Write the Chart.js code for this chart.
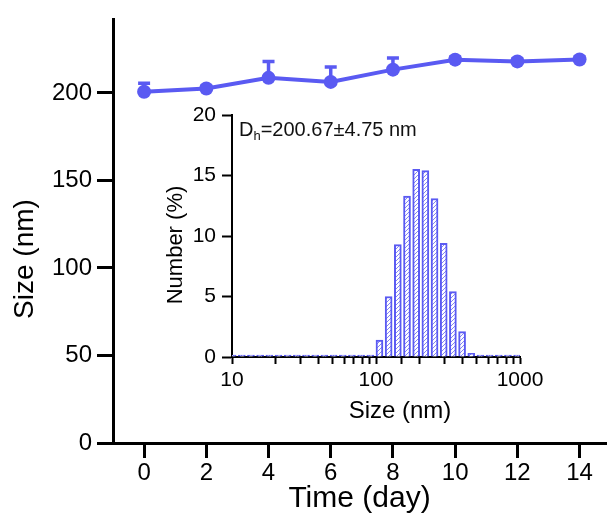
<!DOCTYPE html>
<html>
<head>
<meta charset="utf-8">
<script src="https://cdn.jsdelivr.net/npm/chart.js@4/dist/chart.umd.min.js"></script>
<style>
  html, body { margin: 0; padding: 0; background: #fff; }
  #wrap { position: relative; width: 613px; height: 521px; font-family: "Liberation Sans", Arial, sans-serif; color: #000; }
  #mainChart { position: absolute; left: 0; top: 0; }
  #insetChart { position: absolute; left: 150px; top: 95px; }
  .lbl { position: absolute; white-space: nowrap; text-align: center; }
  .rot { transform: rotate(-90deg); }
  #ytitle { left: -76px; top: 243px; width: 200px; font-size: 28px; line-height: 32px; }
  #iytitle { left: 100px; top: 232px; width: 150px; font-size: 22px; line-height: 26px; }
  #ixtitle { left: 325px; top: 396px; width: 150px; font-size: 24px; line-height: 28px; }
  #dh { left: 239px; top: 118px; font-size: 20px; color: #111; }
  #dh sub { font-size: 13px; vertical-align: -4px; }
</style>
</head>
<body>
<div id="wrap">
  <canvas id="mainChart" width="613" height="521"></canvas>
  <canvas id="insetChart" width="420" height="335"></canvas>
  <div id="ytitle" class="lbl rot">Size (nm)</div>
  <div id="iytitle" class="lbl rot">Number (%)</div>
  <div id="ixtitle" class="lbl">Size (nm)</div>
  <div id="dh" class="lbl">D<sub>h</sub>=200.67±4.75 nm</div>
</div>
<script>
// Stability over time (main plot)
const days = [0, 2, 4, 6, 8, 10, 12, 14];
const sizeMean = [200.7, 202.5, 208.6, 206.3, 213.3, 219.0, 218.0, 219.1];
const sizeSD = [4.8, 1.5, 9.4, 8.5, 6.6, 1.5, 1.5, 1.5];
const dayTicks = [0, 2, 4, 6, 8, 10, 12, 14];
const sizeTicks = [0, 50, 100, 150, 200];

// DLS number distribution (inset)
const dlsSize = [10.10, 11.70, 13.54, 15.69, 18.17, 21.04, 24.36, 28.21, 32.67, 37.84,
  43.82, 50.75, 58.77, 68.06, 78.82, 91.28, 105.7, 122.4, 141.8, 164.2,
  190.1, 220.2, 255.0, 295.3, 342.0, 396.1, 458.7, 531.2, 615.1, 712.4, 825.0, 955.4];
const dlsNumber = [0, 0, 0, 0, 0, 0, 0, 0, 0, 0,
  0, 0, 0, 0, 0, 0, 1.4, 5.0, 9.3, 13.3,
  15.5, 15.4, 13.1, 9.4, 5.4, 2.1, 0.3, 0, 0, 0, 0, 0];
const numberTicks = [0, 5, 10, 15, 20];
const sizeLabelTicks = [10, 100, 1000];

const BLUE = "#5a5af2";
const FONT = "'Liberation Sans', Arial, sans-serif";

// upper error bars, drawn under the markers
const errorBars = {
  id: "errorBars",
  beforeDatasetsDraw(chart) {
    const ctx = chart.ctx;
    const xs = chart.scales.x, ys = chart.scales.y;
    ctx.save();
    ctx.strokeStyle = BLUE;
    ctx.lineWidth = 3.5;
    days.forEach((d, i) => {
      const px = xs.getPixelForValue(d);
      const y0 = ys.getPixelForValue(sizeMean[i]);
      const y1 = ys.getPixelForValue(sizeMean[i] + sizeSD[i]);
      ctx.beginPath();
      ctx.moveTo(px, y0);
      ctx.lineTo(px, y1);
      ctx.moveTo(px - 6, y1);
      ctx.lineTo(px + 6, y1);
      ctx.stroke();
    });
    ctx.restore();
  }
};

new Chart(document.getElementById("mainChart"), {
  type: "line",
  data: {
    datasets: [{
      data: days.map((d, i) => ({ x: d, y: sizeMean[i] })),
      borderColor: BLUE,
      backgroundColor: BLUE,
      borderWidth: 4,
      pointRadius: 7,
      pointBackgroundColor: BLUE,
      pointBorderWidth: 0,
      tension: 0
    }]
  },
  options: {
    responsive: false,
    animation: false,
    layout: { padding: { top: 15, right: 0, left: 0, bottom: 0 } },
    plugins: { legend: { display: false }, tooltip: { enabled: false } },
    scales: {
      x: {
        type: "linear",
        min: -1,
        max: 14.85,
        afterBuildTicks: s => { s.ticks = dayTicks.map(v => ({ value: v })); },
        afterFit: s => { s.height = 78; },
        border: { color: "#000", width: 3 },
        grid: { drawOnChartArea: false, tickLength: 15, tickWidth: 3, tickColor: "#000" },
        ticks: { color: "#000", font: { family: FONT, size: 24 }, padding: 1, autoSkip: false, maxRotation: 0 },
        title: { display: true, text: "Time (day)", color: "#000", font: { family: FONT, size: 30 }, padding: { top: 0, bottom: 4 } }
      },
      y: {
        min: 0,
        max: 242,
        afterBuildTicks: s => { s.ticks = sizeTicks.map(v => ({ value: v })); },
        afterFit: s => { s.width = 113; },
        border: { color: "#000", width: 3 },
        grid: { drawOnChartArea: false, tickLength: 16, tickWidth: 3, tickColor: "#000" },
        ticks: { color: "#000", font: { family: FONT, size: 24 }, padding: 5 }
      }
    }
  },
  plugins: [errorBars]
});

// hatched fill for the histogram bars
function hatch() {
  const c = document.createElement("canvas");
  c.width = 4; c.height = 4;
  const g = c.getContext("2d");
  g.fillStyle = "#fff";
  g.fillRect(0, 0, 4, 4);
  g.strokeStyle = "rgba(90,90,242,0.75)";
  g.lineWidth = 1;
  g.beginPath();
  g.moveTo(0, 4); g.lineTo(4, 0);
  g.stroke();
  return g.createPattern(c, "repeat");
}

new Chart(document.getElementById("insetChart"), {
  type: "bar",
  data: {
    datasets: [{
      data: dlsSize.map((s, i) => ({ x: s, y: dlsNumber[i] })),
      backgroundColor: hatch(),
      borderColor: BLUE,
      borderWidth: 2,
      borderSkipped: "start",
      barThickness: 7,
      minBarLength: 2
    }]
  },
  options: {
    responsive: false,
    animation: false,
    layout: { padding: { top: 20, right: 50, left: 0, bottom: 0 } },
    plugins: { legend: { display: false }, tooltip: { enabled: false } },
    scales: {
      x: {
        type: "logarithmic",
        min: 10,
        max: 1000,
        offset: false,
        afterFit: s => { s.height = 73; },
        border: { color: "#000", width: 2 },
        grid: { offset: false, drawOnChartArea: false, tickLength: 7, tickWidth: 2, tickColor: "#000" },
        ticks: {
          color: "#000", font: { family: FONT, size: 21 }, padding: 4, autoSkip: false, maxRotation: 0,
          callback: v => sizeLabelTicks.includes(v) ? String(v) : ""
        }
      },
      y: {
        min: 0,
        max: 20,
        afterBuildTicks: s => { s.ticks = numberTicks.map(v => ({ value: v })); },
        afterFit: s => { s.width = 82; },
        border: { color: "#000", width: 2 },
        grid: { drawOnChartArea: false, tickLength: 10, tickWidth: 2, tickColor: "#000" },
        ticks: { color: "#000", font: { family: FONT, size: 21 }, padding: 6 }
      }
    }
  }
});
</script>
</body>
</html>
